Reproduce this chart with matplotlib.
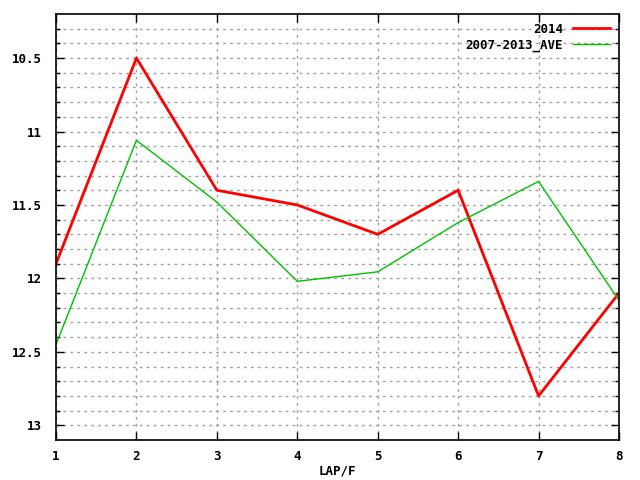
import matplotlib
matplotlib.use("Agg")
import matplotlib.pyplot as plt
import numpy as np

laps = [1, 2, 3, 4, 5, 6, 7, 8]
y2014 = [11.9, 10.5, 11.4, 11.5, 11.7, 11.4, 12.8, 12.1]
yave = [12.45, 11.06, 11.48, 12.02, 11.955, 11.62, 11.34, 12.15]
ytick_vals = [10.5, 11, 11.5, 12, 12.5, 13]
ytick_labels = ["10.5", "11", "11.5", "12", "12.5", "13"]

plt.rcParams['font.family'] = ['DejaVu Sans Mono']
plt.rcParams['font.weight'] = 'bold'

fig = plt.figure(figsize=(6.4, 4.8), dpi=100)
ax = fig.add_axes([56/640, 40/480, 563/640, 426/480])

ax.plot(laps, y2014, color='#ff0000', lw=2.0, label='2014')
ax.plot(laps, yave, color='#00c000', lw=1.0, label='2007-2013_AVE')

ax.set_xlim(1, 8)
ax.set_ylim(13.1, 10.2)
ax.set_xticks(laps)
ax.set_xticklabels([str(v) for v in laps], fontsize=9, fontweight='bold')
ax.set_yticks(ytick_vals)
ax.set_yticklabels(ytick_labels, fontsize=9, fontweight='bold')
ax.set_yticks(np.arange(10.3, 13.05, 0.1), minor=True)

ax.grid(True, which='both', axis='y', color='#a0a0a0', ls=(0, (2, 3)), lw=1)
ax.grid(True, which='major', axis='x', color='#a0a0a0', ls=(0, (2, 3)), lw=1)

ax.tick_params(which='both', direction='in', top=True, right=True)
ax.tick_params(which='major', length=6, width=1)
ax.tick_params(axis='x', which='major', pad=7)
ax.tick_params(axis='y', which='major', pad=10)
ax.tick_params(which='minor', length=3, width=1)
for s in ax.spines.values():
    s.set_linewidth(1.2)

ax.set_xlabel('LAP/F', fontsize=9, fontweight='bold', labelpad=1)

leg = ax.legend(loc='upper right', frameon=False, markerfirst=False,
                prop={'size': 9, 'weight': 'bold'}, handlelength=3,
                borderaxespad=0.3, labelspacing=0.2)
for t in leg.get_texts():
    t.set_ha('right')

fig.savefig('out.png', dpi=100)
